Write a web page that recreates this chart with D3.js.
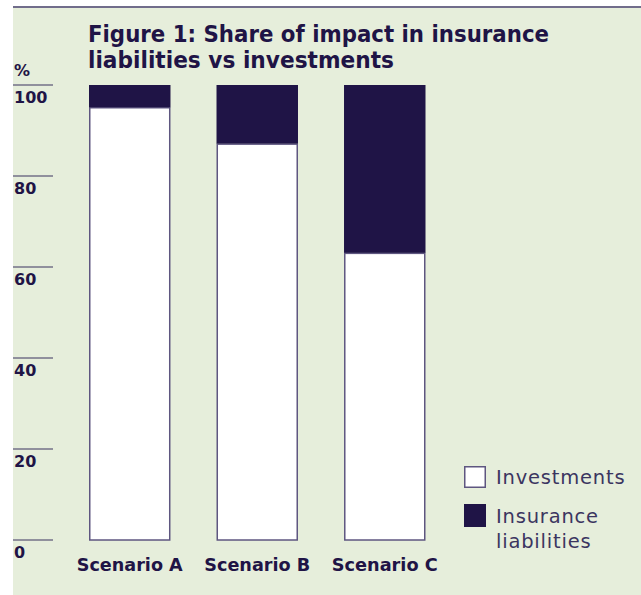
<!DOCTYPE html>
<html>
<head>
<meta charset="utf-8">
<script src="https://cdn.jsdelivr.net/npm/d3@7"></script>
<style>
  body { margin: 0; background: #fff; }
  svg { display: block; }
</style>
</head>
<body>
<div id="chart"></div>
<script>
// data
const scenarios = ['Scenario A', 'Scenario B', 'Scenario C']
const investments = [95, 87, 63]
const liabilities = [5, 13, 37]
const yTicks = [0, 20, 40, 60, 80, 100]

const W = 641, H = 595
const dark = '#1f1446'
const bg = '#e6eedb'
const boldFont = '"DejaVu Sans", sans-serif'

const svg = d3.select('#chart').append('svg')
  .attr('width', W).attr('height', H)

// panel background + top rule
svg.append('rect').attr('x', 13).attr('y', 6).attr('width', W - 13).attr('height', H - 6).attr('fill', bg)
svg.append('line').attr('x1', 13).attr('x2', W).attr('y1', 7).attr('y2', 7)
  .attr('stroke', '#4a4270').attr('stroke-width', 1.5)

// title
svg.append('text').attr('x', 88).attr('y', 42)
  .attr('font-family', boldFont).attr('font-weight', 700).attr('font-size', 22.5)
  .attr('textLength', 461).attr('lengthAdjust', 'spacingAndGlyphs')
  .attr('fill', dark).text('Figure 1: Share of impact in insurance')
svg.append('text').attr('x', 88).attr('y', 68)
  .attr('font-family', boldFont).attr('font-weight', 700).attr('font-size', 22.5)
  .attr('textLength', 306).attr('lengthAdjust', 'spacingAndGlyphs')
  .attr('fill', dark).text('liabilities vs investments')

// scales
const y = d3.scaleLinear().domain([0, 100]).range([540, 85])
const x = d3.scaleBand().domain(scenarios).range([89, 425.5]).paddingInner(0.361).paddingOuter(0)

// y axis: short rules with labels under them
const ticks = svg.append('g')
ticks.selectAll('line').data(yTicks).join('line')
  .attr('x1', 13).attr('x2', 53)
  .attr('y1', d => y(d)).attr('y2', d => y(d))
  .attr('stroke', '#3b335f').attr('stroke-width', 1)
ticks.selectAll('text').data(yTicks).join('text')
  .attr('x', 14).attr('y', d => y(d) + 18)
  .attr('font-family', boldFont).attr('font-weight', 700).attr('font-size', 16)
  .attr('fill', dark).text(d => d)
svg.append('text').attr('x', 14).attr('y', 76)
  .attr('font-family', boldFont).attr('font-weight', 700).attr('font-size', 16)
  .attr('fill', dark).text('%')

// bars
const bars = svg.append('g')
bars.selectAll('rect.inv').data(scenarios).join('rect').attr('class', 'inv')
  .attr('x', d => x(d) + 0.75)
  .attr('y', (d, i) => y(investments[i]))
  .attr('width', x.bandwidth() - 1.5)
  .attr('height', (d, i) => y(0) - y(investments[i]))
  .attr('fill', '#fff').attr('stroke', '#5e5680').attr('stroke-width', 1.5)
bars.selectAll('rect.lia').data(scenarios).join('rect').attr('class', 'lia')
  .attr('x', d => x(d))
  .attr('y', (d, i) => y(investments[i] + liabilities[i]))
  .attr('width', x.bandwidth())
  .attr('height', (d, i) => y(investments[i]) - y(investments[i] + liabilities[i]) - 0.5)
  .attr('fill', dark)

// category labels
svg.append('g').selectAll('text').data(scenarios).join('text')
  .attr('x', d => x(d) + x.bandwidth() / 2).attr('y', 571)
  .attr('text-anchor', 'middle')
  .attr('font-family', boldFont).attr('font-weight', 700).attr('font-size', 17)
  .attr('textLength', 106).attr('lengthAdjust', 'spacingAndGlyphs')
  .attr('fill', dark).text(d => d)

// legend
const leg = svg.append('g')
leg.append('rect').attr('x', 464.75).attr('y', 466.75).attr('width', 20.5).attr('height', 20.5)
  .attr('fill', '#fff').attr('stroke', '#5e5680').attr('stroke-width', 1.5)
leg.append('rect').attr('x', 464).attr('y', 504).attr('width', 22).attr('height', 23)
  .attr('fill', dark)
const legText = leg.append('g').attr('font-family', '"DejaVu Sans", sans-serif').attr('font-weight', 400)
  .attr('font-size', 19.5).attr('fill', '#3b3560').attr('letter-spacing', 0.8)
legText.append('text').attr('x', 496).attr('y', 484).text('Investments')
legText.append('text').attr('x', 496).attr('y', 523).text('Insurance')
legText.append('text').attr('x', 496).attr('y', 548).text('liabilities')
</script>
</body>
</html>
